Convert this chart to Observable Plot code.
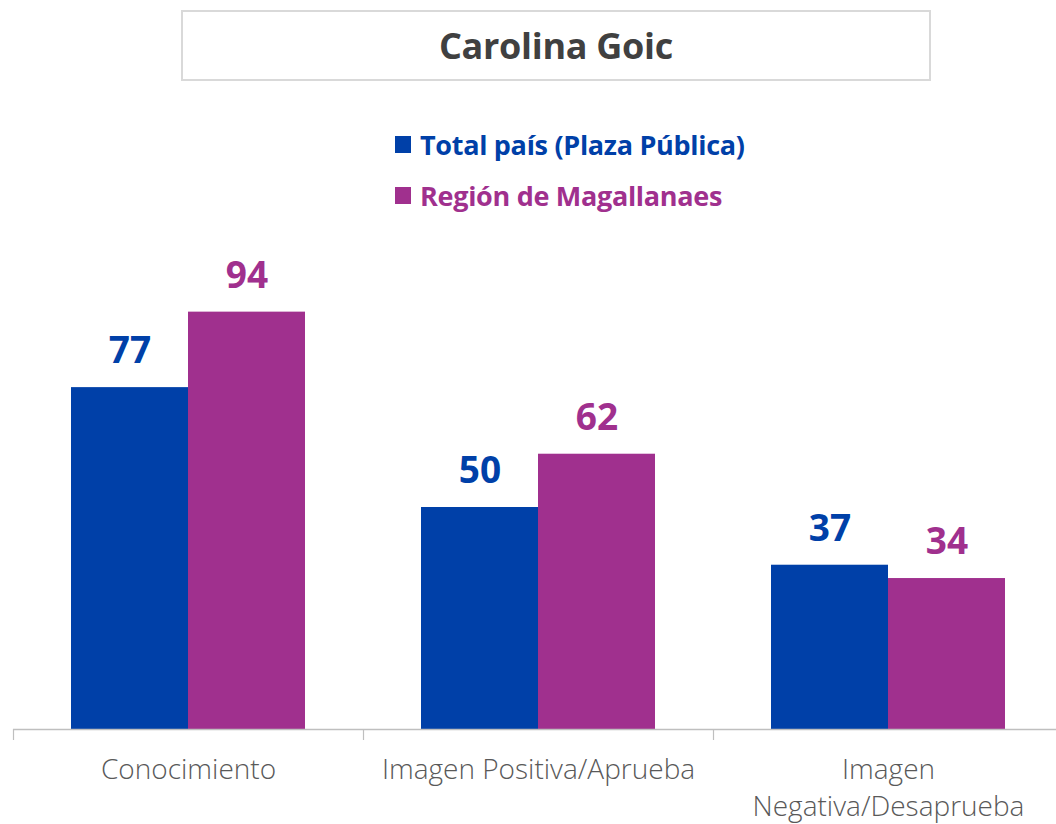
<!DOCTYPE html>
<html>
<head>
<meta charset="utf-8">
<script src="https://cdn.jsdelivr.net/npm/d3@7"></script>
<script src="https://cdn.jsdelivr.net/npm/@observablehq/plot@0.6"></script>
<style>
  html, body { margin: 0; padding: 0; background: #fff; overflow: hidden; }
  #page { position: relative; width: 1056px; height: 824px; font-family: "Open Sans", sans-serif; }
  #header { position: relative; width: 1056px; height: 230px; }
  #title { position: absolute; left: 181px; top: 10px; width: 750px; height: 71px; box-sizing: border-box;
           border: 2px solid #d9d9d9; display: flex; align-items: center; justify-content: center;
           font-weight: 700; font-size: 36px; color: #404040; letter-spacing: -0.3px; }
  .leg { position: absolute; left: 395px; display: flex; align-items: center; font-weight: 700; font-size: 27px; letter-spacing: -0.3px; }
  .sw { width: 16px; height: 17px; margin-right: 9px; }
  #chart svg { display: block; overflow: visible; }
</style>
</head>
<body>
<div id="page">
  <div id="header">
    <div id="title"></div>
    <div id="legend"></div>
  </div>
  <div id="chart"></div>
</div>
<script>
const title = "Carolina Goic";
const categories = ["Conocimiento", "Imagen Positiva/Aprueba", "Imagen\nNegativa/Desaprueba"];
const seriesNames = ["Total país (Plaza Pública)", "Región de Magallanaes"];
const totalPais = [77, 50, 37];
const magallanes = [94, 62, 34];
const colors = ["#0040A8", "#A0308E"];

document.getElementById("title").textContent = title;
const legend = document.getElementById("legend");
seriesNames.forEach((name, i) => {
  const row = document.createElement("div");
  row.className = "leg";
  row.style.top = (i === 0 ? 126 : 177) + "px";
  row.style.color = colors[i];
  const sw = document.createElement("div");
  sw.className = "sw";
  sw.style.background = colors[i];
  const t = document.createElement("span");
  t.textContent = name;
  row.appendChild(sw);
  row.appendChild(t);
  legend.appendChild(row);
});

const totalRows = categories.map((c, i) => ({category: c, value: totalPais[i]}));
const magRows = categories.map((c, i) => ({category: c, value: magallanes[i]}));

const labelFont = {fontFamily: "Open Sans", fontWeight: 700, fontSize: 37};

const chart = Plot.plot({
  width: 1056,
  height: 594,
  marginTop: 55,
  marginBottom: 95,
  marginLeft: 13,
  marginRight: 0,
  x: {domain: categories, range: [13, 1063], padding: 0, axis: null},
  y: {domain: [0, 100], axis: null},
  marks: [
    Plot.barY(totalRows, {x: "category", y: "value", fill: colors[0], insetLeft: 58, insetRight: 175}),
    Plot.barY(magRows, {x: "category", y: "value", fill: colors[1], insetLeft: 175, insetRight: 58}),
    Plot.text(totalRows, {x: "category", y: "value", text: d => String(d.value), dx: -58.5, dy: -36, fill: colors[0], ...labelFont}),
    Plot.text(magRows, {x: "category", y: "value", text: d => String(d.value), dx: 58.5, dy: -36, fill: colors[1], ...labelFont}),
    Plot.ruleY([0], {stroke: "#bfbfbf", strokeWidth: 1.5}),
    Plot.axisX({tickSize: 11, dx: -175, tickFormat: () => "", label: null, stroke: "#bfbfbf", strokeOpacity: 1, strokeWidth: 1.2}),
    Plot.axisX({tickSize: 0, tickPadding: 23, label: null, fontSize: 28, fontFamily: "Open Sans", fontWeight: 300, fill: "#595959", lineHeight: 1.33, lineAnchor: "top", tickFormat: d => d})
  ]
});
document.getElementById("chart").appendChild(chart);
</script>
</body>
</html>
